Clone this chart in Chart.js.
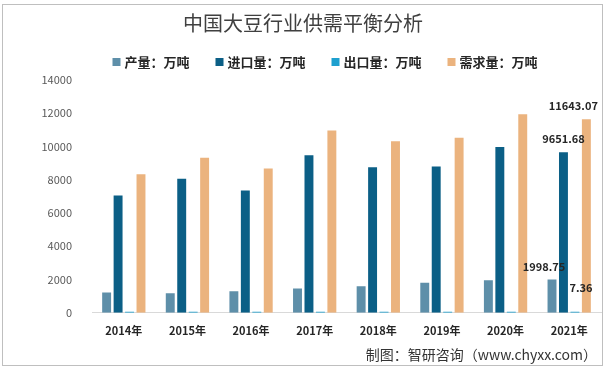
<!DOCTYPE html>
<html>
<head>
<meta charset="utf-8">
<script src="https://cdn.jsdelivr.net/npm/chart.js@4"></script>
<style>
  html, body { margin: 0; padding: 0; background: #fff; }
  #wrap { position: relative; width: 608px; height: 369px; }
</style>
</head>
<body>
<div id="wrap"><canvas id="soyChart" width="608" height="369"></canvas></div>
<script>
const years = ['2014年', '2015年', '2016年', '2017年', '2018年', '2019年', '2020年', '2021年'];
const production = [1215, 1179, 1294, 1455, 1597, 1810, 1960, 1998.75];
const imports = [7060, 8060, 7360, 9470, 8760, 8800, 9970, 9651.68];
const exports_ = [13.4, 13.4, 12.7, 11.2, 13.4, 11.4, 7.9, 7.36];
const demand = [8330, 9330, 8680, 10970, 10310, 10530, 11940, 11643.07];
const yTicks = [0, 2000, 4000, 6000, 8000, 10000, 12000, 14000];

const FONT = '"Noto Sans CJK SC", "Noto Sans", sans-serif';

// value labels shown only for the last year, offsets relative to the bar top
const lastLabels = [
    { ds: 0, text: '1998.75', dx: -8, dy: -13 },
    { ds: 1, text: '9651.68', dx: 0, dy: -13 },
    { ds: 2, text: '7.36', dx: 6, dy: -24 },
    { ds: 3, text: '11643.07', dx: -13, dy: -13 }
];

const extras = {
    id: 'extras',
    beforeDraw(chart) {
        const ctx = chart.ctx;
        ctx.save();
        ctx.strokeStyle = '#bfbfbf';
        ctx.lineWidth = 1;
        ctx.strokeRect(2.5, 4.5, 600, 361);
        ctx.font = '20px ' + FONT;
        ctx.fillStyle = '#404040';
        ctx.textAlign = 'center';
        ctx.textBaseline = 'middle';
        ctx.fillText('中国大豆行业供需平衡分析', 303, 23);

        // legend, drawn by hand so it can sit off-centre like the original
        ctx.font = 'bold 13px ' + FONT;
        const sets = chart.data.datasets;
        const gap = 26;
        const widths = sets.map(d => 12 + ctx.measureText(d.label).width);
        const total = widths.reduce((a, b) => a + b, 0) + gap * (sets.length - 1);
        let x = 325 - total / 2;
        ctx.textAlign = 'left';
        sets.forEach((d, i) => {
            ctx.fillStyle = d.backgroundColor;
            ctx.fillRect(x, 58, 8, 8);
            ctx.fillStyle = '#262626';
            ctx.fillText(d.label, x + 12, 62);
            x += widths[i] + gap;
        });
        ctx.restore();
    },
    afterDraw(chart) {
        const ctx = chart.ctx;
        ctx.save();
        ctx.font = 'bold 11px ' + FONT;
        ctx.fillStyle = '#262626';
        ctx.textAlign = 'center';
        ctx.textBaseline = 'middle';
        const last = years.length - 1;
        lastLabels.forEach(l => {
            const bar = chart.getDatasetMeta(l.ds).data[last];
            ctx.fillText(l.text, bar.x + l.dx, bar.y + l.dy);
        });
        ctx.font = '14px ' + FONT;
        ctx.fillStyle = '#333';
        ctx.textAlign = 'right';
        ctx.fillText('制图：智研咨询（www.chyxx.com）', 597, 355);
        ctx.restore();
    }
};

new Chart(document.getElementById('soyChart').getContext('2d'), {
    type: 'bar',
    data: {
        labels: years,
        datasets: [
            { label: '产量：万吨', data: production, backgroundColor: '#5E8FA9' },
            { label: '进口量：万吨', data: imports, backgroundColor: '#0B5F86' },
            { label: '出口量：万吨', data: exports_, backgroundColor: '#1EA0CF', minBarLength: 1 },
            { label: '需求量：万吨', data: demand, backgroundColor: '#EBB37E' }
        ]
    },
    options: {
        responsive: false,
        animation: false,
        layout: { padding: { left: 10, right: 7, top: 80, bottom: 29 } },
        datasets: { bar: { categoryPercentage: 0.72, barPercentage: 0.78 } },
        plugins: {
            title: { display: false },
            legend: { display: false },
            tooltip: { enabled: false }
        },
        scales: {
            x: {
                grid: { display: false },
                border: { color: '#d9d9d9' },
                ticks: { color: '#262626', font: { family: FONT, size: 11, weight: 'bold' }, padding: 3 }
            },
            y: {
                min: 0,
                max: 14000,
                afterBuildTicks: s => { s.ticks = yTicks.map(v => ({ value: v })); },
                afterFit: s => { s.width = 82; },
                grid: { display: false },
                border: { display: false },
                ticks: {
                    color: '#595959',
                    font: { family: FONT, size: 11 },
                    padding: 12,
                    callback: v => String(v)
                }
            }
        }
    },
    plugins: [extras]
});
</script>
</body>
</html>
